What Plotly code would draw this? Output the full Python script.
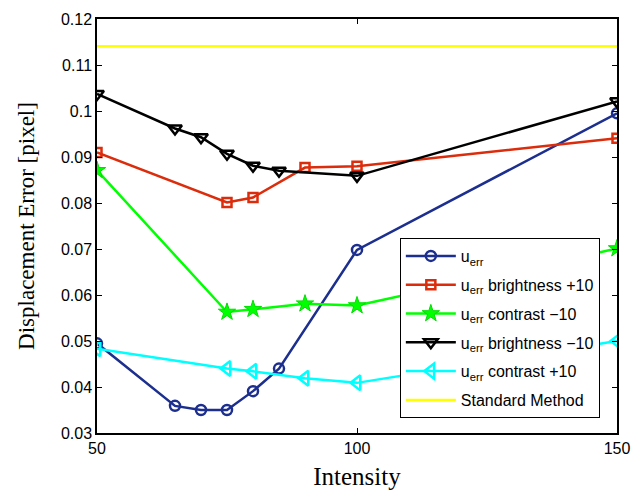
import plotly.graph_objects as go

intensity_a = [50, 65, 70, 75, 80, 85, 100, 150]
u_err = [0.0495, 0.0359, 0.0350, 0.0350, 0.0391, 0.0440, 0.0698, 0.0995]

intensity_b = [50, 75, 80, 90, 100, 150]
u_bright_p10 = [0.0910, 0.0801, 0.0812, 0.0877, 0.0880, 0.0941]
u_contrast_m10 = [0.0871, 0.0563, 0.0569, 0.0581, 0.0577, 0.0701]
u_contrast_p10 = [0.0483, 0.0440, 0.0434, 0.0419, 0.0409, 0.0500]

u_bright_m10 = [0.1037, 0.0962, 0.0943, 0.0907, 0.0881, 0.0870, 0.0859, 0.1021]

intensity_std = [50, 150]
standard = [0.1141, 0.1141]

y_ticks = [0.03, 0.04, 0.05, 0.06, 0.07, 0.08, 0.09, 0.10, 0.11, 0.12]
y_labels = ["0.03", "0.04", "0.05", "0.06", "0.07", "0.08", "0.09", "0.1", "0.11", "0.12"]
x_ticks = [50, 100, 150]

fig = go.Figure()
lw = 2.5
fig.add_trace(go.Scatter(x=intensity_a, y=u_err, mode="lines+markers", name="u<sub>err</sub>", legendgroup="a",
                         line=dict(color="#1c2f8f", width=lw),
                         marker=dict(symbol="circle-open", size=10, color="#1c2f8f", line=dict(width=2.5))))
fig.add_trace(go.Scatter(x=intensity_b, y=u_bright_p10, mode="lines+markers", name="u<sub>err</sub> brightness +10", legendgroup="b",
                         line=dict(color="#db2c0c", width=lw),
                         marker=dict(symbol="square-open", size=9, color="#db2c0c", line=dict(width=2.5))))
fig.add_trace(go.Scatter(x=intensity_b, y=u_contrast_m10, mode="lines+markers", name="u<sub>err</sub> contrast \u221210", legendgroup="c",
                         line=dict(color="#00ff00", width=lw),
                         marker=dict(symbol="star", size=13, color="#00ff00", line=dict(width=1, color="#00dd00"))))
fig.add_trace(go.Scatter(x=intensity_a, y=u_bright_m10, mode="lines+markers", name="u<sub>err</sub> brightness \u221210", legendgroup="d",
                         line=dict(color="#000000", width=lw),
                         marker=dict(symbol="triangle-down-open", size=12, color="#000000", line=dict(width=2.5))))
fig.add_trace(go.Scatter(x=intensity_b, y=u_contrast_p10, mode="lines+markers", name="u<sub>err</sub> contrast +10", legendgroup="e",
                         line=dict(color="#00ffff", width=lw),
                         marker=dict(symbol="triangle-left-open", size=13, color="#00ffff", line=dict(width=2.5))))
fig.add_trace(go.Scatter(x=intensity_std, y=standard, mode="lines", name="Standard Method", legendgroup="f",
                         line=dict(color="#ffff00", width=lw)))

axis_common = dict(showline=True, linecolor="black", linewidth=1.5, mirror="ticks",
                   ticks="inside", ticklen=5, tickcolor="black", showgrid=False, zeroline=False,
                   tickfont=dict(family="Liberation Sans, Arial", size=16, color="black"))

fig.update_xaxes(range=[50, 150], tickvals=x_ticks,
                 title=dict(text="Intensity", font=dict(family="Liberation Serif, serif", size=25, color="black"), standoff=12),
                 **axis_common)
fig.update_yaxes(range=[0.03, 0.12], tickvals=y_ticks, ticktext=y_labels,
                 title=dict(text="Displacement Error [pixel]", font=dict(family="Liberation Serif, serif", size=23, color="black"), standoff=20),
                 **axis_common)

fig.update_layout(
    width=632, height=491,
    margin=dict(l=97, r=15, t=19, b=58, autoexpand=False),
    plot_bgcolor="white", paper_bgcolor="white",
    legend=dict(x=0.967, y=0.471, xanchor="right", yanchor="top",
                bgcolor="white", bordercolor="black", borderwidth=1,
                font=dict(family="Liberation Sans, Arial", size=16, color="black"),
                tracegroupgap=5, itemwidth=50),
    showlegend=True,
)

fig.write_html("out.html", config={"displayModeBar": False},
               post_script="document.body.style.margin='0';document.body.style.padding='0';document.body.style.overflow='hidden';")
